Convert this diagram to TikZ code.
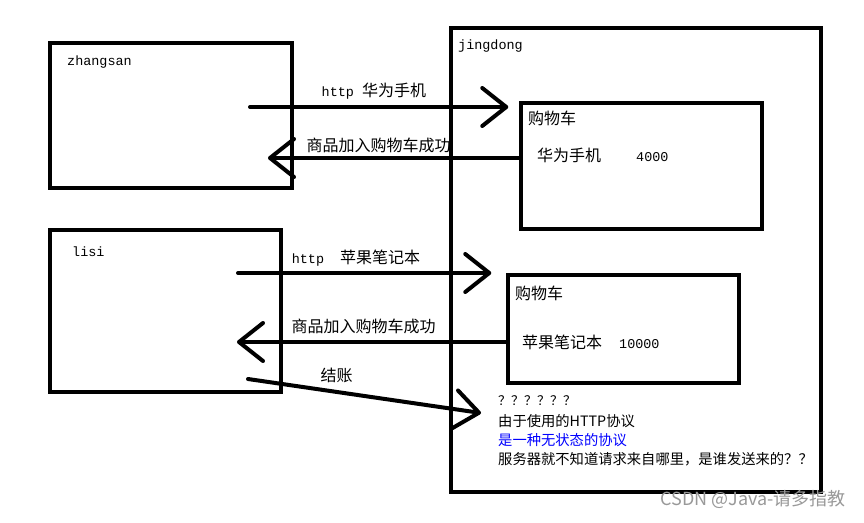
\documentclass[tikz,border=0pt]{standalone}
\usepackage{fontspec}
\setmainfont{Noto Sans CJK SC}
\newfontfamily\latfont[Scale=0.84]{Liberation Mono}
\usetikzlibrary{arrows.meta}
\tikzset{
  box/.style={rectangle,draw=black,line width=3.5pt,inner sep=0pt},
  flow/.style={->,line width=4pt,line cap=round},
  txt/.style={inner sep=0pt,anchor=west,font=\fontsize{16}{18}\selectfont},
  small/.style={inner sep=0pt,anchor=west,font=\fontsize{14.3}{16}\selectfont},
  lbl/.style={inner sep=0pt,font=\fontsize{16}{18}\selectfont}
}
\begin{document}
\begin{tikzpicture}[x=1pt,y=-1pt,>={Straight Barb[length=24pt,width=38pt,line cap=round,line join=round]}]
\fill[white] (0,0) rectangle (864,522);
\useasboundingbox (0,0) rectangle (864,522);

\node (zs) at (171,115.5)[box,minimum width=242pt,minimum height=145pt]{};
\node (ls) at (165.5,311)[box,minimum width=231pt,minimum height=162pt]{};
\node (jd) at (636,260)[box,minimum width=370pt,minimum height=464pt]{};
\node (c1) at (641.5,166)[box,minimum width=241pt,minimum height=126pt]{};
\node (c2) at (623.5,329)[box,minimum width=231pt,minimum height=108pt]{};

\node (zsname) at (67,62)[txt]{\latfont zhangsan};
\node (lsname) at (72,252)[txt]{\latfont lisi};
\node (jdname) at (458,46)[txt]{\latfont jingdong};
\node (c1name) at (528,118)[txt]{购物车};
\node (c1item) at (537,155)[txt]{华为手机\hspace{35pt}{\latfont 4000}};
\node (c2name) at (515,293)[txt]{购物车};
\node (c2item) at (522,342)[txt]{苹果笔记本\hspace{17pt}{\latfont 10000}};

\node (q1) at (498,401)[small]{\fontsize{13}{14}\selectfont ？？？？？？};
\node (q2) at (498,421)[small]{由于使用的HTTP协议};
\node (q3) at (498,440)[small,text=blue]{是一种无状态的协议};
\node (q4) at (498,459)[small]{服务器就不知道请求来自哪里，是谁发送来的？？};
\node (wm) at (846,499)[anchor=east,inner sep=0pt,text=black!40,font=\fontsize{18}{20}\selectfont]{CSDN @Java-请多指教};

\coordinate (a1) at (250,107);
\coordinate (b1) at (268,158);
\coordinate (a2) at (238,273);
\coordinate (b2) at (237,342);
\coordinate (p1) at (248,379);
\coordinate (p2) at (481,413);

\draw[flow,shorten >=11pt] (a1)--node[lbl,above=6pt,pos=0.46]{{\latfont http }华为手机}(c1.west |- a1);
\draw[flow] (c1.west |- b1)--node[lbl,above=3pt,pos=0.56]{商品加入购物车成功}(b1);
\draw[flow,shorten >=15pt] (a2)--node[lbl,above=5pt,pos=0.44]{{\latfont http\ \ }苹果笔记本}(c2.west |- a2);
\draw[flow] (c2.west |- b2)--node[lbl,above=6pt,pos=0.53]{商品加入购物车成功}(b2);
\draw[flow] (p1)--node[lbl,above=7pt,pos=0.38]{结账}(p2);
\end{tikzpicture}
\end{document}
